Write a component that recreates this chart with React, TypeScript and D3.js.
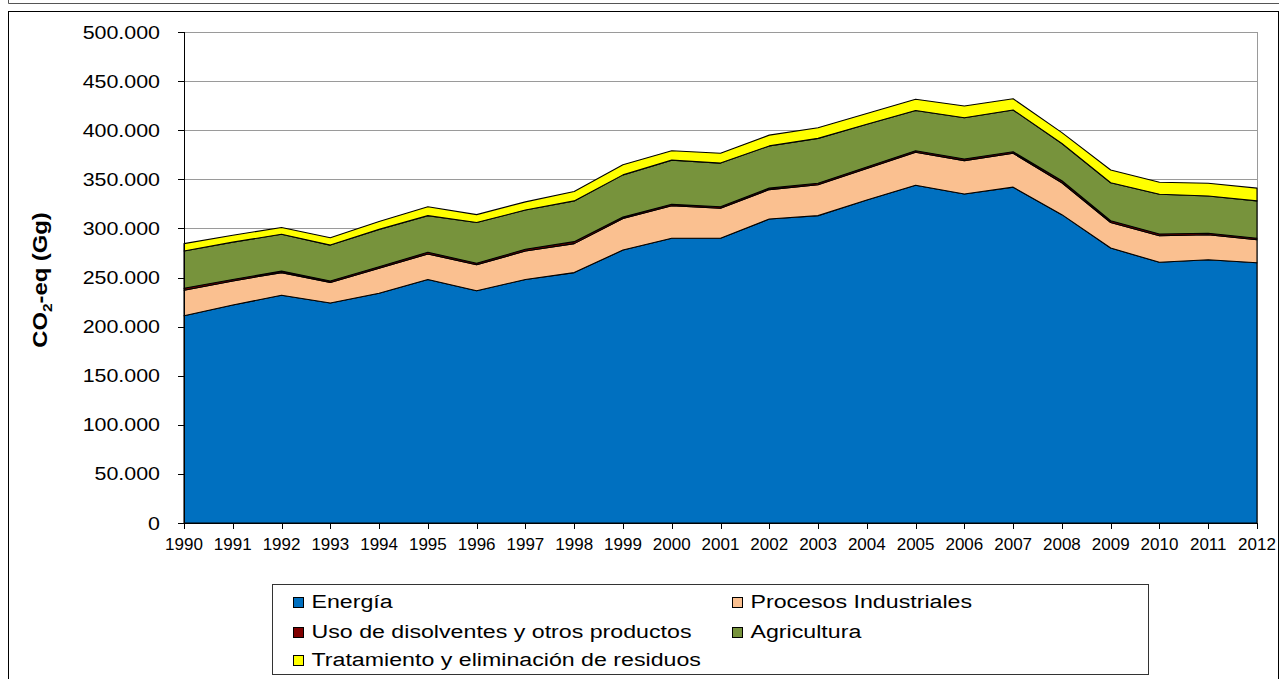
import React from "react";
import * as d3 from "d3";

const years = [1990, 1991, 1992, 1993, 1994, 1995, 1996, 1997, 1998, 1999, 2000, 2001, 2002, 2003, 2004, 2005, 2006, 2007, 2008, 2009, 2010, 2011, 2012];

// values in thousands of Gg CO2-eq
const energia = [211, 222, 232, 224, 234, 248, 236.5, 248, 255, 278, 290, 290, 309.6, 313, 329, 344, 335, 342, 314, 280, 265.5, 268, 265];
const procesos = [26, 24.5, 23, 21, 25.5, 26, 26.5, 29, 29.5, 32, 33, 30.5, 29.9, 31.5, 32, 33.5, 34, 34.5, 32.5, 26, 27, 25.5, 23.5];
const disolventes = [2, 1.5, 1.5, 1.5, 1.5, 1.7, 1.5, 1.7, 2, 1.5, 1.5, 1.5, 1.5, 1.5, 1.5, 1.5, 1.7, 1.5, 2, 1.8, 1.8, 1.5, 1.5];
const agricultura = [38, 38, 37.5, 36.5, 38, 37.3, 41.5, 40, 41.5, 43, 45, 44.5, 43, 45.7, 43.5, 41, 42, 42.6, 38, 38.7, 40.4, 38, 38];
const residuos = [7.5, 7, 7, 7.5, 8, 9, 8, 8.3, 9.5, 10.3, 9.5, 10, 11, 10.8, 11, 11.5, 11.9, 11.4, 11, 13, 12.3, 13, 13];

const seriesNames = ["Energía", "Procesos Industriales", "Uso de disolventes y otros productos", "Agricultura", "Tratamiento y eliminación de residuos"];
const seriesColors = ["#0070C0", "#FAC090", "#800000", "#77933C", "#FFFF00"];
const yTicks = [0, 50, 100, 150, 200, 250, 300, 350, 400, 450, 500];

const FONT = "'Liberation Sans', Arial, sans-serif";
const SX = 1.19;

export default function App() {
  const seriesValues = [energia, procesos, disolventes, agricultura, residuos];
  const rows = years.map((y, i) => {
    const r: any = { year: y };
    seriesNames.forEach((n, k) => (r[n] = seriesValues[k][i]));
    return r;
  });
  const stacked = d3.stack<any>().keys(seriesNames)(rows);

  const left = 184, right = 1257, top = 32, bottom = 523;
  const x = d3.scaleLinear().domain([1990, 2012]).range([left, right]);
  const y = d3.scaleLinear().domain([0, 500]).range([bottom, top]);

  const area = d3
    .area<any>()
    .x((d) => x(d.data.year))
    .y0((d) => y(d[0]))
    .y1((d) => y(d[1]));

  const locale = d3.formatLocale({ decimal: ",", thousands: ".", grouping: [3], currency: ["", ""] });
  const fmt = locale.format(",d");

  const legendItems = [
    { i: 0, x: 293, y: 608 },
    { i: 1, x: 732, y: 608 },
    { i: 2, x: 293, y: 638 },
    { i: 3, x: 732, y: 638 },
    { i: 4, x: 293, y: 666 },
  ];

  return (
    <svg
      width={1280}
      height={679}
      style={{ position: "absolute", left: 0, top: 0, background: "#fff" }}
      fontFamily={FONT}
    >
      <rect x={0} y={0} width={1280} height={679} fill="#fff" />
      <path d="M8.5,0 V3.5 H1279" fill="none" stroke="#555" strokeWidth={1} />
      <rect x={8.5} y={11.5} width={1270} height={700} fill="none" stroke="#000" strokeWidth={1} />

      {/* gridlines */}
      {yTicks.slice(1).map((t) => (
        <line key={t} x1={left} x2={right} y1={Math.round(y(t)) + 0.5} y2={Math.round(y(t)) + 0.5} stroke="#9a9a9a" strokeWidth={1} />
      ))}
      <line x1={right + 0.5} x2={right + 0.5} y1={top} y2={bottom} stroke="#9a9a9a" strokeWidth={1} />

      {/* areas */}
      {stacked.map((s, k) => (
        <path key={k} d={area(s) || ""} fill={seriesColors[k]} stroke="#000" strokeWidth={1.1} strokeLinejoin="round" />
      ))}

      {/* axes */}
      <line x1={left + 0.5} x2={left + 0.5} y1={top} y2={bottom} stroke="#000" strokeWidth={1} />
      <line x1={left} x2={right} y1={bottom + 0.5} y2={bottom + 0.5} stroke="#000" strokeWidth={1} />
      {yTicks.map((t) => (
        <g key={t}>
          <line x1={left - 6} x2={left} y1={Math.round(y(t)) + 0.5} y2={Math.round(y(t)) + 0.5} stroke="#000" />
          <text transform={`translate(160,${y(t) + 6.5}) scale(${SX},1)`} textAnchor="end" fontSize={18} fill="#000">
            {fmt(t * 1000)}
          </text>
        </g>
      ))}
      {years.map((yr) => (
        <g key={yr}>
          <line x1={Math.round(x(yr)) + 0.5} x2={Math.round(x(yr)) + 0.5} y1={bottom} y2={bottom + 6} stroke="#000" />
          <text x={x(yr)} y={550} textAnchor="middle" fontSize={17} fill="#000">
            {yr}
          </text>
        </g>
      ))}

      {/* y title */}
      <text transform={`translate(47,280) rotate(-90) scale(${SX},1)`} textAnchor="middle" fontSize={20} fontWeight="bold" fill="#000">
        CO<tspan dy={5} fontSize={13}>2</tspan><tspan dy={-5}>-eq (Gg)</tspan>
      </text>

      {/* legend */}
      <rect x={272.5} y={584.5} width={876} height={90} fill="#fff" stroke="#333" strokeWidth={1} />
      {legendItems.map((it) => (
        <g key={it.i}>
          <rect x={it.x + 0.5} y={it.y - 10.5} width={10} height={10} fill={seriesColors[it.i]} stroke="#000" strokeWidth={1} />
          <text transform={`translate(${it.x + 18.5},${it.y}) scale(1.22,1)`} fontSize={19} fill="#000">
            {seriesNames[it.i]}
          </text>
        </g>
      ))}
    </svg>
  );
}
